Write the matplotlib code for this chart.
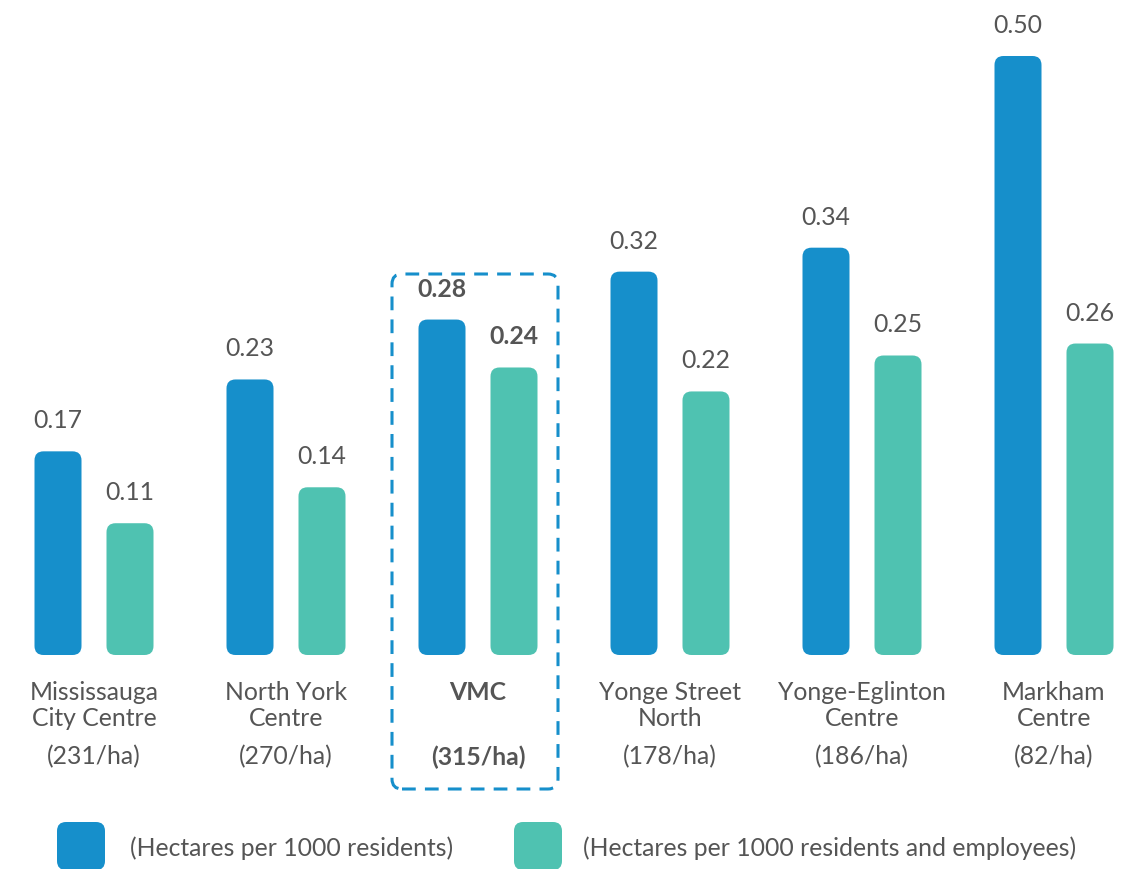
import matplotlib
matplotlib.use("Agg")
import matplotlib.pyplot as plt
from matplotlib.patches import FancyBboxPatch
import matplotlib.transforms as mtransforms

plt.rcParams['font.family'] = ['Lato', 'DejaVu Sans']

categories = [["Mississauga", "City Centre"], ["North York", "Centre"], ["VMC"],
              ["Yonge Street", "North"], ["Yonge-Eglinton", "Centre"], ["Markham", "Centre"]]
densities = ["(231/ha)", "(270/ha)", "(315/ha)", "(178/ha)", "(186/ha)", "(82/ha)"]
residents = [0.17, 0.23, 0.28, 0.32, 0.34, 0.50]
res_emp = [0.11, 0.14, 0.24, 0.22, 0.25, 0.26]
series_names = ["(Hectares per 1000 residents)", "(Hectares per 1000 residents and employees)"]
highlight = 2

BLUE = "#168fcb"
TEAL = "#4fc2b1"
TXT = "#555555"
FS = 17.8

W, H = 1124, 869
fig = plt.figure(figsize=(W / 100, H / 100), dpi=100)
ax = fig.add_axes([0, 0, 1, 1])
# pixel mapping: group centre px = 94 + 192*i ; baseline at py=655, 1198 px per unit
ax.set_xlim((0 - 94) / 192, (W - 94) / 192)
ax.set_ylim(-(H - 655) / 1198, 655 / 1198)
ax.axis('off')

off = 36 / 192
bw = 47 / 192
x = list(range(len(residents)))
b1 = ax.bar([i - off for i in x], residents, width=bw, color=BLUE)
b2 = ax.bar([i + off for i in x], res_emp, width=bw, color=TEAL)

rx = 9 / 192
ry = 9 / 1198
for bars in (b1, b2):
    for p in bars:
        xx, yy = p.get_xy()
        w, h = p.get_width(), p.get_height()
        fc = p.get_facecolor()
        p.set_visible(False)
        fp = FancyBboxPatch((xx, yy), w, h, boxstyle=f"round,pad=0,rounding_size={rx}",
                            mutation_aspect=ry / rx, facecolor=fc, edgecolor='none')
        ax.add_patch(fp)

# value labels
for i in x:
    wt = 'bold' if i == highlight else 'normal'
    ax.annotate(f"{residents[i]:.2f}", (i - off, residents[i]), xytext=(0, 19),
                textcoords='offset pixels', ha='center', va='bottom', fontsize=FS,
                color=TXT, fontweight=wt)
    ax.annotate(f"{res_emp[i]:.2f}", (i + off, res_emp[i]), xytext=(0, 19),
                textcoords='offset pixels', ha='center', va='bottom', fontsize=FS,
                color=TXT, fontweight=wt)

# category labels
tr = mtransforms.blended_transform_factory(ax.transData, ax.transAxes)
for i in x:
    wt = 'bold' if i == highlight else 'normal'
    for k, line in enumerate(categories[i]):
        py = 692 + 27 * k
        ax.text(i, 1 - py / H, line, transform=tr, ha='center', va='center',
                fontsize=FS, color=TXT, fontweight=wt)
    ax.text(i, 1 - 757 / H, densities[i], transform=tr, ha='center', va='center',
            fontsize=FS, color=TXT, fontweight=wt)

# dashed highlight box (pixel coordinates -> figure fraction)
bx0, bx1, by0, by1 = 392, 558, 274, 789
box = FancyBboxPatch((bx0 / W, 1 - by1 / H), (bx1 - bx0) / W, (by1 - by0) / H,
                     boxstyle=f"round,pad=0,rounding_size={10 / W}",
                     mutation_aspect=W / H, transform=fig.transFigure,
                     facecolor='none', edgecolor=BLUE, linewidth=2.2,
                     linestyle=(0, (4.5, 3)))
fig.add_artist(box)

# legend
legend_items = [(57, 130, BLUE, series_names[0]), (514, 583, TEAL, series_names[1])]
for sx, tx, col, name in legend_items:
    sq = FancyBboxPatch((sx / W, 1 - 870 / H), 48 / W, 48 / H,
                        boxstyle=f"round,pad=0,rounding_size={9 / W}",
                        mutation_aspect=W / H, transform=fig.transFigure,
                        facecolor=col, edgecolor='none')
    fig.add_artist(sq)
    fig.text(tx / W, 1 - 848 / H, name, ha='left', va='center', fontsize=FS, color=TXT)

fig.savefig("out.png", dpi=100, facecolor='white')
